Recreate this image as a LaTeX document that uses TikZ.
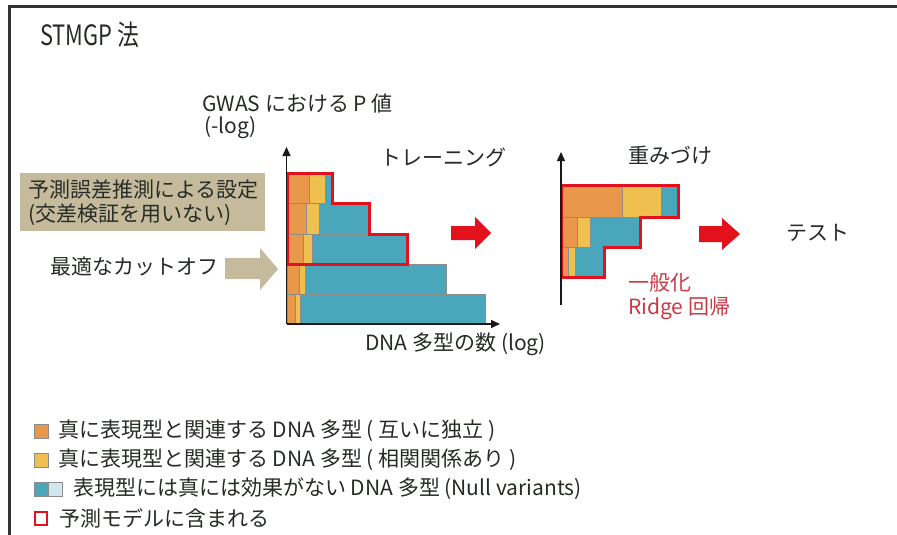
\documentclass[tikz,border=0pt]{standalone}
\usepackage{fontspec}
\setmainfont{Noto Sans CJK JP}
\newfontfamily\titlefont[FakeStretch=0.78]{Noto Sans CJK JP}
\usetikzlibrary{arrows.meta}

\definecolor{snporange}{HTML}{E9974B}
\definecolor{snpyellow}{HTML}{EFC04F}
\definecolor{snpteal}{HTML}{4AA6BA}
\definecolor{snplight}{HTML}{CFE7EF}
\definecolor{modelred}{HTML}{E3111C}
\definecolor{tanbox}{HTML}{C5BB9C}
\definecolor{ridgered}{HTML}{C73A44}
\definecolor{inkgray}{HTML}{262B26}

\tikzset{
	seg/.style={draw=black!45, line width=0.4pt},
	model/.style={draw=modelred, line width=3pt, line join=miter},
	axis/.style={line width=1.5pt, draw=black!90, -{Triangle[length=9pt,width=8pt]}},
	lbl/.style={font=\fontsize{21}{24}\selectfont, text=inkgray, inner sep=0pt},
	blockarrow/.style={fill=modelred},
	frame/.style={line width=3pt, draw=black!80}
}

\begin{document}
\begin{tikzpicture}[x=1pt, y=-1pt]
		\useasboundingbox (0,0) rectangle (897,535);
		\fill[white] (0,0) rectangle (897,535);
		\draw[frame] (897,7) -- (9.5,7) -- (9.5,535);
		
		\node[lbl, font=\titlefont\fontsize{28}{30}\selectfont, anchor=west] (title) at (40,35) {STMGP 法};
		
		\node[lbl, font=\fontsize{21}{22}\selectfont, align=left, anchor=west] (gwas) at (202,116) {GWAS における P 値\\\hspace{2pt}(-log)};
		\node[lbl, anchor=west] (training) at (380,157) {トレーニング};
		\node[lbl, anchor=west] (snpcount) at (365,344) {DNA 多型の数 (log)};
		
		\fill[tanbox] (20,173) rectangle (265,231);
		\node[lbl, align=left, anchor=west] (cvnote) at (28,203) {予測誤差推測による設定\\(交差検証を用いない)};
		\node[lbl, anchor=west] (cutoff) at (50,267) {最適なカットオフ};
		\fill[tanbox] (225,258) -- (260,258) -- (260,248) -- (278,269) -- (260,290) -- (260,279) -- (225,279) -- cycle;
		
		\filldraw[seg, fill=snporange] (287,173) rectangle (309,203);
		\filldraw[seg, fill=snpyellow] (309,173) rectangle (325,203);
		\filldraw[seg, fill=snpteal] (325,173) rectangle (331,203);
		
		\filldraw[seg, fill=snporange] (287,203) rectangle (306,234);
		\filldraw[seg, fill=snpyellow] (306,203) rectangle (319,234);
		\filldraw[seg, fill=snpteal] (319,203) rectangle (368,234);
		
		\filldraw[seg, fill=snporange] (287,234) rectangle (303,264);
		\filldraw[seg, fill=snpyellow] (303,234) rectangle (312,264);
		\filldraw[seg, fill=snpteal] (312,234) rectangle (406,264);
		
		\filldraw[seg, fill=snporange] (287,264) rectangle (299,294);
		\filldraw[seg, fill=snpyellow] (299,264) rectangle (305,294);
		\filldraw[seg, fill=snpteal] (305,264) rectangle (446,294);
		
		\filldraw[seg, fill=snporange] (287,294) rectangle (295,324);
		\filldraw[seg, fill=snpyellow] (295,294) rectangle (300,324);
		\filldraw[seg, fill=snpteal] (300,294) rectangle (485,324);
		
		\draw[model] (287,173) -- (332,173) -- (332,203) -- (369,203) -- (369,234) -- (407,234) -- (407,264) -- (287,264) -- cycle;
		
		\draw[axis] (286.5,324) -- (286.5,147);
		\draw[axis] (286.5,324) -- (500,324);
		
		\fill[blockarrow] (451,226) -- (475,226) -- (475,217) -- (491,233) -- (475,249) -- (475,240) -- (451,240) -- cycle;
		
		\node[lbl, anchor=west] (weighting) at (628,155) {重みづけ};
		
		\filldraw[seg, fill=snporange] (562,185) rectangle (622,217);
		\filldraw[seg, fill=snpyellow] (622,185) rectangle (661,217);
		\filldraw[seg, fill=snpteal] (661,185) rectangle (677,217);
		
		\filldraw[seg, fill=snporange] (562,217) rectangle (577,247);
		\filldraw[seg, fill=snpyellow] (577,217) rectangle (590,247);
		\filldraw[seg, fill=snpteal] (590,217) rectangle (639,247);
		
		\filldraw[seg, fill=snporange] (562,247) rectangle (568,277);
		\filldraw[seg, fill=snpyellow] (568,247) rectangle (575,277);
		\filldraw[seg, fill=snpteal] (575,247) rectangle (603,277);
		
		\draw[model] (561,185) -- (678,185) -- (678,217) -- (640,217) -- (640,247) -- (604,247) -- (604,277) -- (561,277) -- cycle;
		
		\draw[axis] (561,305) -- (561,152);
		
		\node[lbl, text=ridgered, align=left, anchor=north west] (ridge) at (628,273) {一般化\\Ridge 回帰};
		
		\fill[blockarrow] (699,226) -- (722,226) -- (722,218) -- (740,234) -- (722,250) -- (722,242) -- (699,242) -- cycle;
		\node[lbl, anchor=west] (test) at (786,233) {テスト};
		
		\filldraw[seg, fill=snporange] (34,424) rectangle (48,438);
		\node[lbl, anchor=west] (keyindep) at (58,431) {真に表現型と関連する DNA 多型 ( 互いに独立 )};
		\filldraw[seg, fill=snpyellow] (34,453) rectangle (48,467);
		\node[lbl, anchor=west] (keycorr) at (58,460) {真に表現型と関連する DNA 多型 ( 相関関係あり )};
		\filldraw[seg, fill=snpteal] (34,482) rectangle (48,496);
		\filldraw[seg, fill=snplight] (48,482) rectangle (62,496);
		\node[lbl, anchor=west] (keynull) at (73,489) {表現型には真には効果がない DNA 多型 (Null variants)};
		\draw[draw=modelred, line width=1.8pt] (35,512) rectangle (47,525);
		\node[lbl, anchor=west] (keymodel) at (59,518) {予測モデルに含まれる};
	\end{tikzpicture}
\end{document}
